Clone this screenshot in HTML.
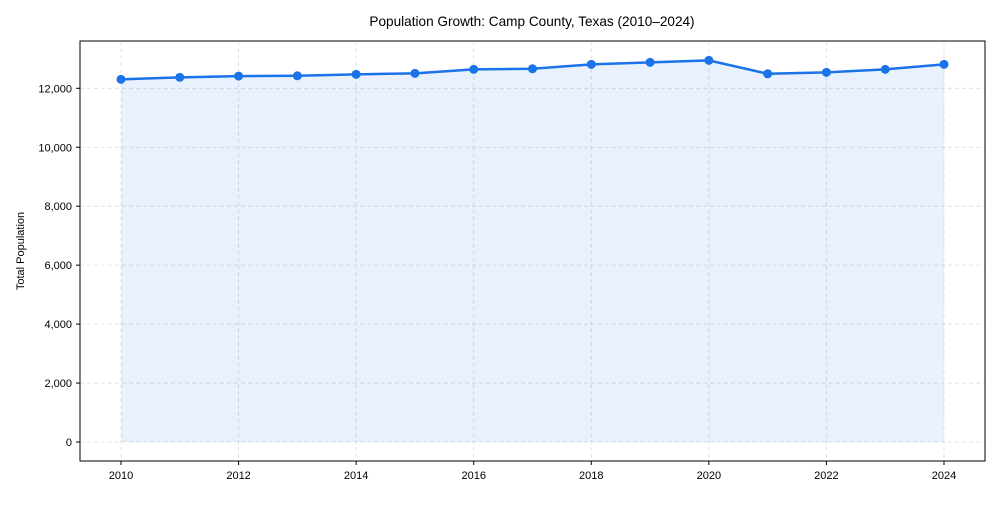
<!DOCTYPE html>
<html><head><meta charset="utf-8"><style>
body{margin:0;background:#fff;}
svg text{font-family:"Liberation Sans",Arial,sans-serif;}
</style></head><body>
<svg id="chart" width="1000" height="500" viewBox="0 0 1000 500">
<text x="532" y="26" text-anchor="middle" font-size="13.6" fill="#000">Population Growth: Camp County, Texas (2010–2024)</text>
<text transform="translate(24,251) rotate(-90)" text-anchor="middle" font-size="11" fill="#000">Total Population</text>
<g id="grid"></g><g id="area"></g><g id="series"></g><g id="axes"></g>
<rect x="80" y="41" width="905" height="420" fill="none" stroke="#000" stroke-width="1"/>
</svg>
<script>
const years=[2010,2011,2012,2013,2014,2015,2016,2017,2018,2019,2020,2021,2022,2023,2024];
const population=[12303,12371,12415,12425,12473,12507,12642,12663,12812,12880,12948,12493,12541,12642,12812];
const xTicks=[2010,2012,2014,2016,2018,2020,2022,2024];
const yTicks=[0,2000,4000,6000,8000,10000,12000];
const NS="http://www.w3.org/2000/svg";
function X(v){return 121+(v-2010)*(944-121)/14;}
function Y(v){return 442-v*(442-88.3)/12000;}
function mk(t,a,p){const e=document.createElementNS(NS,t);for(const k in a)e.setAttribute(k,a[k]);p.appendChild(e);return e;}
const grid=document.getElementById('grid'),axes=document.getElementById('axes'),area=document.getElementById('area'),series=document.getElementById('series');
xTicks.forEach(t=>{
 const g=mk('line',{x1:X(t),x2:X(t),y1:41,y2:461,stroke:'#dcdcdc','stroke-dasharray':'4,3','stroke-width':0.8},grid);
 
 
 const k=mk('line',{x1:X(t),x2:X(t),y1:461,y2:465,stroke:'#000'},axes);
 
 
 const l=mk('text',{x:X(t),y:479,'text-anchor':'middle','font-size':11},axes);l.textContent=t;
 
 
});
yTicks.forEach(t=>{
 const g=mk('line',{x1:80,x2:985,y1:Y(t),y2:Y(t),stroke:'#dcdcdc','stroke-dasharray':'4,3','stroke-width':0.8},grid);
 
 
 const k=mk('line',{x1:76,x2:80,y1:Y(t),y2:Y(t),stroke:'#000'},axes);
 
 
 const l=mk('text',{x:72,y:Y(t)+4,'text-anchor':'end','font-size':11},axes);l.textContent=t.toLocaleString('en-US');
 
 
});
let pts=years.map((y,i)=>X(y)+','+Y(population[i]));
const a=mk('polygon',{points:X(years[0])+','+Y(0)+' '+pts.join(' ')+' '+X(years[years.length-1])+','+Y(0),fill:'#1a73e8','fill-opacity':0.1,stroke:'none'},area);


const pl=mk('polyline',{points:pts.join(' '),fill:'none',stroke:'#1a73e8','stroke-width':2.5},series);


years.forEach((y,i)=>{
 const c=mk('circle',{cx:X(y),cy:Y(population[i]),r:4.5,fill:'#1a73e8'},series);
 
 
});
</script>
</body></html>
